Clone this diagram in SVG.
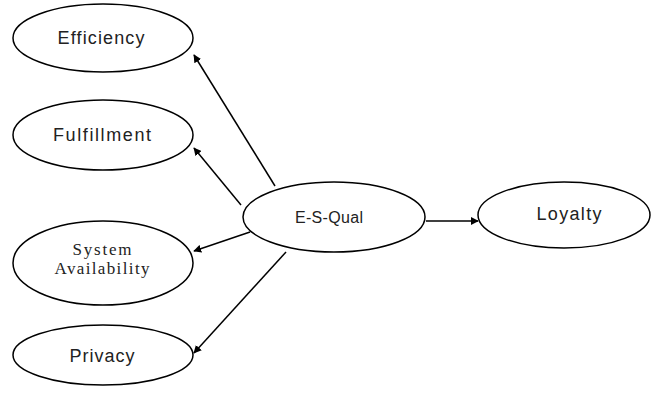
<svg xmlns="http://www.w3.org/2000/svg" width="653" height="394" viewBox="0 0 653 394">
<defs>
<style>
.node ellipse{fill:#fff;stroke:#000;stroke-width:1.5}
.lbl{font-family:"Liberation Sans",Arial,sans-serif;font-size:18px;fill:#222;text-anchor:middle}
.sm{font-size:16px}
.ser{font-family:"Liberation Serif","Times New Roman",serif;font-size:17px;fill:#222;text-anchor:middle}
.edges line{stroke:#000;stroke-width:1.5;marker-end:url(#ah)}
</style>
<marker id="ah" viewBox="0 0 10 10" refX="9" refY="5" markerWidth="8" markerHeight="8" orient="auto" markerUnits="userSpaceOnUse">
<path d="M0,0 L10,5 L0,10 z" fill="#000"/>
</marker>
</defs>
<rect width="653" height="394" fill="#fff"/>
<g id="efficiency" class="node"><ellipse cx="103" cy="38" rx="90" ry="34"/><text class="lbl" x="101" y="44" textLength="87" lengthAdjust="spacing">Efficiency</text></g>
<g id="fulfillment" class="node"><ellipse cx="103" cy="135" rx="90" ry="35"/><text class="lbl" x="102" y="141" textLength="98" lengthAdjust="spacing">Fulfillment</text></g>
<g id="system-availability" class="node"><ellipse cx="103" cy="263" rx="90" ry="42"/><text class="ser" x="102" y="255" textLength="59" lengthAdjust="spacing">System</text><text class="ser" x="102" y="274" textLength="95" lengthAdjust="spacing">Availability</text></g>
<g id="privacy" class="node"><ellipse cx="103" cy="355" rx="90" ry="30"/><text class="lbl" x="102" y="362" textLength="65" lengthAdjust="spacing">Privacy</text></g>
<g id="esqual" class="node"><ellipse cx="334" cy="217" rx="91" ry="35"/><text class="lbl sm" x="329" y="223" textLength="68" lengthAdjust="spacing">E-S-Qual</text></g>
<g id="loyalty" class="node"><ellipse cx="564" cy="215" rx="86" ry="33"/><text class="lbl" x="569" y="220" textLength="65" lengthAdjust="spacing">Loyalty</text></g>
<g id="connectors" class="edges">
<line x1="275" y1="186" x2="194" y2="55"/>
<line x1="241" y1="205" x2="194" y2="148"/>
<line x1="250" y1="232" x2="194" y2="251"/>
<line x1="286" y1="252" x2="194" y2="353"/>
<line x1="426" y1="221" x2="478" y2="221"/>
</g>
</svg>
